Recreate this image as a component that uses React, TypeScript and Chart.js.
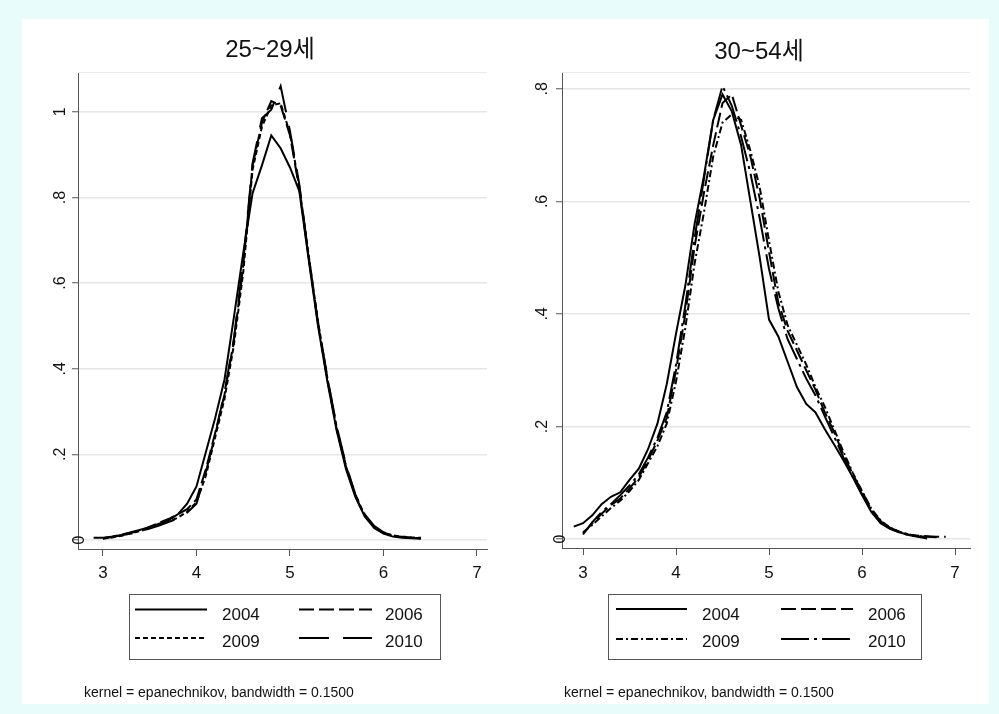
import React, { useEffect, useRef } from "react";
import { Chart, registerables } from "chart.js";

Chart.register(...registerables);

const FONT = '"Liberation Sans", Arial, "Noto Sans CJK KR", sans-serif';

// ---------- data ----------
const YEARS = ["2004", "2006", "2009", "2010"];
const NOTE = "kernel = epanechnikov, bandwidth = 0.1500";
const X_TICKS = [3, 4, 5, 6, 7];

// Panel 1: 25~29세
const TITLE_LEFT = "25~29세";
const X_LEFT = [2.9, 3.0, 3.1, 3.2, 3.3, 3.4, 3.5, 3.6, 3.7, 3.8, 3.9, 4.0, 4.1, 4.2, 4.3, 4.4, 4.5, 4.6, 4.7, 4.8, 4.9, 5.0, 5.1, 5.2, 5.3, 5.4, 5.5, 5.6, 5.7, 5.8, 5.9, 6.0, 6.1, 6.2, 6.3, 6.4];
const L_2004 = [0.005, 0.005, 0.007, 0.012, 0.018, 0.024, 0.03, 0.038, 0.046, 0.06, 0.085, 0.125, 0.205, 0.285, 0.375, 0.52, 0.67, 0.81, 0.875, 0.945, 0.915, 0.87, 0.815, 0.655, 0.5, 0.37, 0.255, 0.165, 0.1, 0.055, 0.028, 0.015, 0.008, 0.005, 0.004, 0.003];
const L_2006 = [null, 0.004, 0.008, 0.013, 0.017, 0.022, 0.031, 0.04, 0.049, 0.06, 0.072, 0.095, 0.165, 0.25, 0.34, 0.465, 0.64, 0.875, 0.975, 1.025, 1.015, 0.945, 0.82, 0.66, 0.505, 0.375, 0.258, 0.17, 0.102, 0.056, 0.03, 0.016, 0.01, 0.007, 0.005, 0.004];
const L_2009 = [null, 0.003, 0.006, 0.01, 0.016, 0.021, 0.028, 0.036, 0.043, 0.052, 0.066, 0.088, 0.15, 0.24, 0.33, 0.455, 0.625, 0.865, 0.965, 1.015, 1.02, 0.95, 0.825, 0.665, 0.51, 0.378, 0.262, 0.172, 0.104, 0.058, 0.031, 0.017, 0.011, 0.008, 0.006, 0.005];
const L_2010 = [null, 0.004, 0.007, 0.011, 0.015, 0.02, 0.027, 0.034, 0.042, 0.05, 0.064, 0.085, 0.158, 0.245, 0.345, 0.47, 0.65, 0.88, 0.985, 1.005, 1.06, 0.955, 0.83, 0.662, 0.508, 0.38, 0.265, 0.175, 0.106, 0.06, 0.033, 0.018, 0.01, 0.007, 0.005, 0.004];
const Y_TICKS_LEFT = [0, 0.2, 0.4, 0.6, 0.8, 1];
const Y_LABELS_LEFT = ["0", ".2", ".4", ".6", ".8", "1"];

// Panel 2: 30~54세
const TITLE_RIGHT = "30~54세";
const X_RIGHT = [2.9, 3.0, 3.1, 3.2, 3.3, 3.4, 3.5, 3.6, 3.7, 3.8, 3.9, 4.0, 4.1, 4.2, 4.3, 4.4, 4.5, 4.6, 4.7, 4.8, 4.9, 5.0, 5.1, 5.2, 5.3, 5.4, 5.5, 5.6, 5.7, 5.8, 5.9, 6.0, 6.1, 6.2, 6.3, 6.4, 6.5, 6.6, 6.7, 6.8, 6.9];
const R_2004 = [0.022, 0.028, 0.042, 0.062, 0.075, 0.083, 0.105, 0.125, 0.16, 0.205, 0.275, 0.365, 0.45, 0.56, 0.645, 0.745, 0.79, 0.76, 0.7, 0.6, 0.5, 0.39, 0.36, 0.315, 0.27, 0.24, 0.225, 0.195, 0.168, 0.14, 0.11, 0.078, 0.048, 0.028, 0.018, 0.012, 0.007, 0.004, 0.001, null, null];
const R_2006 = [null, 0.01, 0.028, 0.045, 0.06, 0.072, 0.09, 0.11, 0.14, 0.175, 0.215, 0.3, 0.4, 0.52, 0.615, 0.7, 0.775, 0.79, 0.735, 0.68, 0.605, 0.51, 0.42, 0.37, 0.335, 0.3, 0.265, 0.225, 0.19, 0.15, 0.115, 0.085, 0.052, 0.032, 0.02, 0.013, 0.008, 0.006, 0.005, 0.004, 0.004];
const R_2009 = [null, 0.012, 0.025, 0.04, 0.055, 0.068, 0.085, 0.105, 0.135, 0.165, 0.205, 0.28, 0.375, 0.49, 0.58, 0.68, 0.74, 0.755, 0.745, 0.69, 0.625, 0.53, 0.44, 0.38, 0.345, 0.31, 0.27, 0.235, 0.195, 0.155, 0.118, 0.085, 0.054, 0.033, 0.02, 0.013, 0.008, 0.005, 0.004, null, null];
const R_2010 = [null, 0.008, 0.03, 0.048, 0.062, 0.078, 0.095, 0.115, 0.145, 0.18, 0.225, 0.31, 0.415, 0.535, 0.64, 0.745, 0.805, 0.77, 0.715, 0.65, 0.57, 0.48, 0.41, 0.355, 0.32, 0.285, 0.255, 0.218, 0.182, 0.145, 0.11, 0.08, 0.05, 0.03, 0.019, 0.012, 0.007, 0.005, 0.004, 0.003, null];
const Y_TICKS_RIGHT = [0, 0.2, 0.4, 0.6, 0.8];
const Y_LABELS_RIGHT = ["0", ".2", ".4", ".6", ".8"];

const DASH_LEFT = [[], [15, 5], [5, 3], [30, 14]];
const DASH_RIGHT = [[], [15, 5], [7, 3, 2, 3], [28, 5, 3, 5]];

type PanelCfg = {
  title: string;
  titleX: number;
  titleBase: number;
  xs: number[];
  series: (number | null)[][];
  dashes: number[][];
  xMin: number;
  xMax: number;
  yMin: number;
  yMax: number;
  yTicks: number[];
  yLabels: string[];
  left: number;
  width: number;
  height: number;
  padTop: number;
  padRight: number;
  yAxisW: number;
  xAxisH: number;
  xTickPad: number;
  yLabelDx: number;
  zeroDx: number;
  box: [number, number, number, number];
  cols: [number, number, number][];
  rows: [number, number][];
  noteX: number;
  noteBase: number;
};

function Panel({ cfg }: { cfg: PanelCfg }) {
  const ref = useRef<HTMLCanvasElement | null>(null);
  useEffect(() => {
    if (!ref.current) return;
    const datasets = cfg.series.map((ys, k) => ({
      label: YEARS[k],
      data: cfg.xs
        .map((x, i) => ({ x, y: ys[i] }))
        .filter((p) => p.y !== null && p.y !== undefined),
      borderColor: "#000",
      borderWidth: 2,
      borderDash: cfg.dashes[k],
      pointRadius: 0,
      fill: false,
      tension: 0,
    }));

    const deco = {
      id: "deco",
      beforeDatasetsDraw(chart: any) {
        const ctx = chart.ctx;
        const ca = chart.chartArea;
        ctx.save();
        ctx.strokeStyle = "#ebebeb";
        ctx.lineWidth = 1;
        ctx.beginPath();
        ctx.moveTo(ca.left, ca.top + 0.5);
        ctx.lineTo(ca.right, ca.top + 0.5);
        ctx.stroke();
        ctx.restore();
      },
      afterDraw(chart: any) {
        const ctx = chart.ctx;
        const ca = chart.chartArea;
        const ys = chart.scales.y;
        ctx.save();
        // title
        ctx.fillStyle = "#111";
        ctx.font = `24px ${FONT}`;
        ctx.textAlign = "center";
        ctx.textBaseline = "alphabetic";
        ctx.fillText(cfg.title, cfg.titleX, cfg.titleBase);
        // rotated y tick labels
        ctx.font = `16px ${FONT}`;
        ctx.textBaseline = "middle";
        cfg.yTicks.forEach((v, i) => {
          const py = ys.getPixelForValue(v);
          const px = ca.left + (v === 0 ? cfg.zeroDx : cfg.yLabelDx);
          ctx.save();
          ctx.translate(px, py);
          ctx.rotate(-Math.PI / 2);
          ctx.fillText(cfg.yLabels[i], 0, 0);
          ctx.restore();
        });
        // legend box
        const [bx, by, bw, bh] = cfg.box;
        ctx.strokeStyle = "#555";
        ctx.lineWidth = 1;
        ctx.setLineDash([]);
        ctx.strokeRect(bx + 0.5, by + 0.5, bw, bh);
        ctx.font = `17px ${FONT}`;
        ctx.textAlign = "left";
        ctx.textBaseline = "alphabetic";
        for (let r = 0; r < 2; r++) {
          for (let c = 0; c < 2; c++) {
            const k = r * 2 + c;
            const [x0, x1, tx] = cfg.cols[c];
            const [ly, tb] = cfg.rows[r];
            ctx.strokeStyle = "#000";
            ctx.lineWidth = 2;
            ctx.setLineDash(cfg.dashes[k]);
            ctx.beginPath();
            ctx.moveTo(x0, ly);
            ctx.lineTo(x1, ly);
            ctx.stroke();
            ctx.setLineDash([]);
            ctx.fillStyle = "#111";
            ctx.fillText(YEARS[k], tx, tb);
          }
        }
        // note
        ctx.font = `14px ${FONT}`;
        ctx.fillText(NOTE, cfg.noteX, cfg.noteBase);
        ctx.restore();
      },
    };

    const chart = new Chart(ref.current, {
      type: "line",
      data: { datasets: datasets as any },
      options: {
        animation: false,
        responsive: false,
        maintainAspectRatio: false,
        events: [],
        layout: { padding: { top: cfg.padTop, right: cfg.padRight, left: 0, bottom: 0 } },
        plugins: { legend: { display: false }, title: { display: false }, tooltip: { enabled: false } },
        scales: {
          x: {
            type: "linear",
            min: cfg.xMin,
            max: cfg.xMax,
            afterBuildTicks: (s: any) => {
              s.ticks = X_TICKS.map((v) => ({ value: v }));
            },
            afterFit: (s: any) => {
              s.height = cfg.xAxisH;
            },
            grid: {
              display: true,
              drawOnChartArea: false,
              drawTicks: true,
              tickLength: 7,
              tickColor: "#555",
              tickWidth: 1,
            },
            border: { display: true, color: "#555", width: 1 },
            ticks: {
              color: "#111",
              font: { family: FONT, size: 17 },
              padding: cfg.xTickPad,
              maxRotation: 0,
              minRotation: 0,
              autoSkip: false,
              callback: (v: any) => String(v),
            },
          },
          y: {
            type: "linear",
            min: cfg.yMin,
            max: cfg.yMax,
            afterBuildTicks: (s: any) => {
              s.ticks = cfg.yTicks.map((v) => ({ value: v }));
            },
            afterFit: (s: any) => {
              s.width = cfg.yAxisW;
            },
            grid: {
              display: true,
              drawOnChartArea: true,
              color: "#e6e6e6",
              lineWidth: 1.5,
              drawTicks: true,
              tickLength: 6,
              tickColor: "#555",
              tickWidth: 1,
            },
            border: { display: true, color: "#555", width: 1 },
            ticks: { display: false },
          },
        },
      },
      plugins: [deco],
    });
    return () => chart.destroy();
  }, [cfg]);

  return (
    <canvas
      ref={ref}
      width={cfg.width}
      height={cfg.height}
      style={{ position: "absolute", left: cfg.left, top: 0, width: cfg.width, height: cfg.height }}
    />
  );
}

const LEFT_CFG: PanelCfg = {
  title: TITLE_LEFT,
  titleX: 248,
  titleBase: 38,
  xs: X_LEFT,
  series: [L_2004, L_2006, L_2009, L_2010],
  dashes: DASH_LEFT,
  xMin: 2.733,
  xMax: 7.107,
  yMin: -0.021,
  yMax: 1.093,
  yTicks: Y_TICKS_LEFT,
  yLabels: Y_LABELS_LEFT,
  left: 0,
  width: 483,
  height: 685,
  padTop: 53,
  padRight: 18,
  yAxisW: 56,
  xAxisH: 155,
  xTickPad: 7,
  yLabelDx: -17,
  zeroDx: 2,
  box: [107, 575, 311, 65],
  cols: [
    [113, 185, 200],
    [277, 350, 363],
  ],
  rows: [
    [590.5, 601],
    [619, 628],
  ],
  noteX: 62,
  noteBase: 678,
};

const RIGHT_CFG: PanelCfg = {
  title: TITLE_RIGHT,
  titleX: 254,
  titleBase: 40,
  xs: X_RIGHT,
  series: [R_2004, R_2006, R_2009, R_2010],
  dashes: DASH_RIGHT,
  xMin: 2.774,
  xMax: 7.161,
  yMin: -0.016,
  yMax: 0.83,
  yTicks: Y_TICKS_RIGHT,
  yLabels: Y_LABELS_RIGHT,
  left: 483,
  width: 484,
  height: 685,
  padTop: 53,
  padRight: 19,
  yAxisW: 57,
  xAxisH: 156,
  xTickPad: 8,
  yLabelDx: -19,
  zeroDx: -1,
  box: [103, 575, 313, 65],
  cols: [
    [111, 182, 197],
    [276, 348, 363],
  ],
  rows: [
    [590, 601],
    [620, 628],
  ],
  noteX: 59,
  noteBase: 678,
};

export default function App() {
  return (
    <div
      style={{
        position: "absolute",
        left: 0,
        top: 0,
        width: 999,
        height: 714,
        background: "#e8fcfc",
        overflow: "hidden",
      }}
    >
      <div
        style={{
          position: "absolute",
          left: 22,
          top: 19,
          width: 967,
          height: 685,
          background: "#ffffff",
        }}
      >
        <Panel cfg={LEFT_CFG} />
        <Panel cfg={RIGHT_CFG} />
      </div>
    </div>
  );
}
